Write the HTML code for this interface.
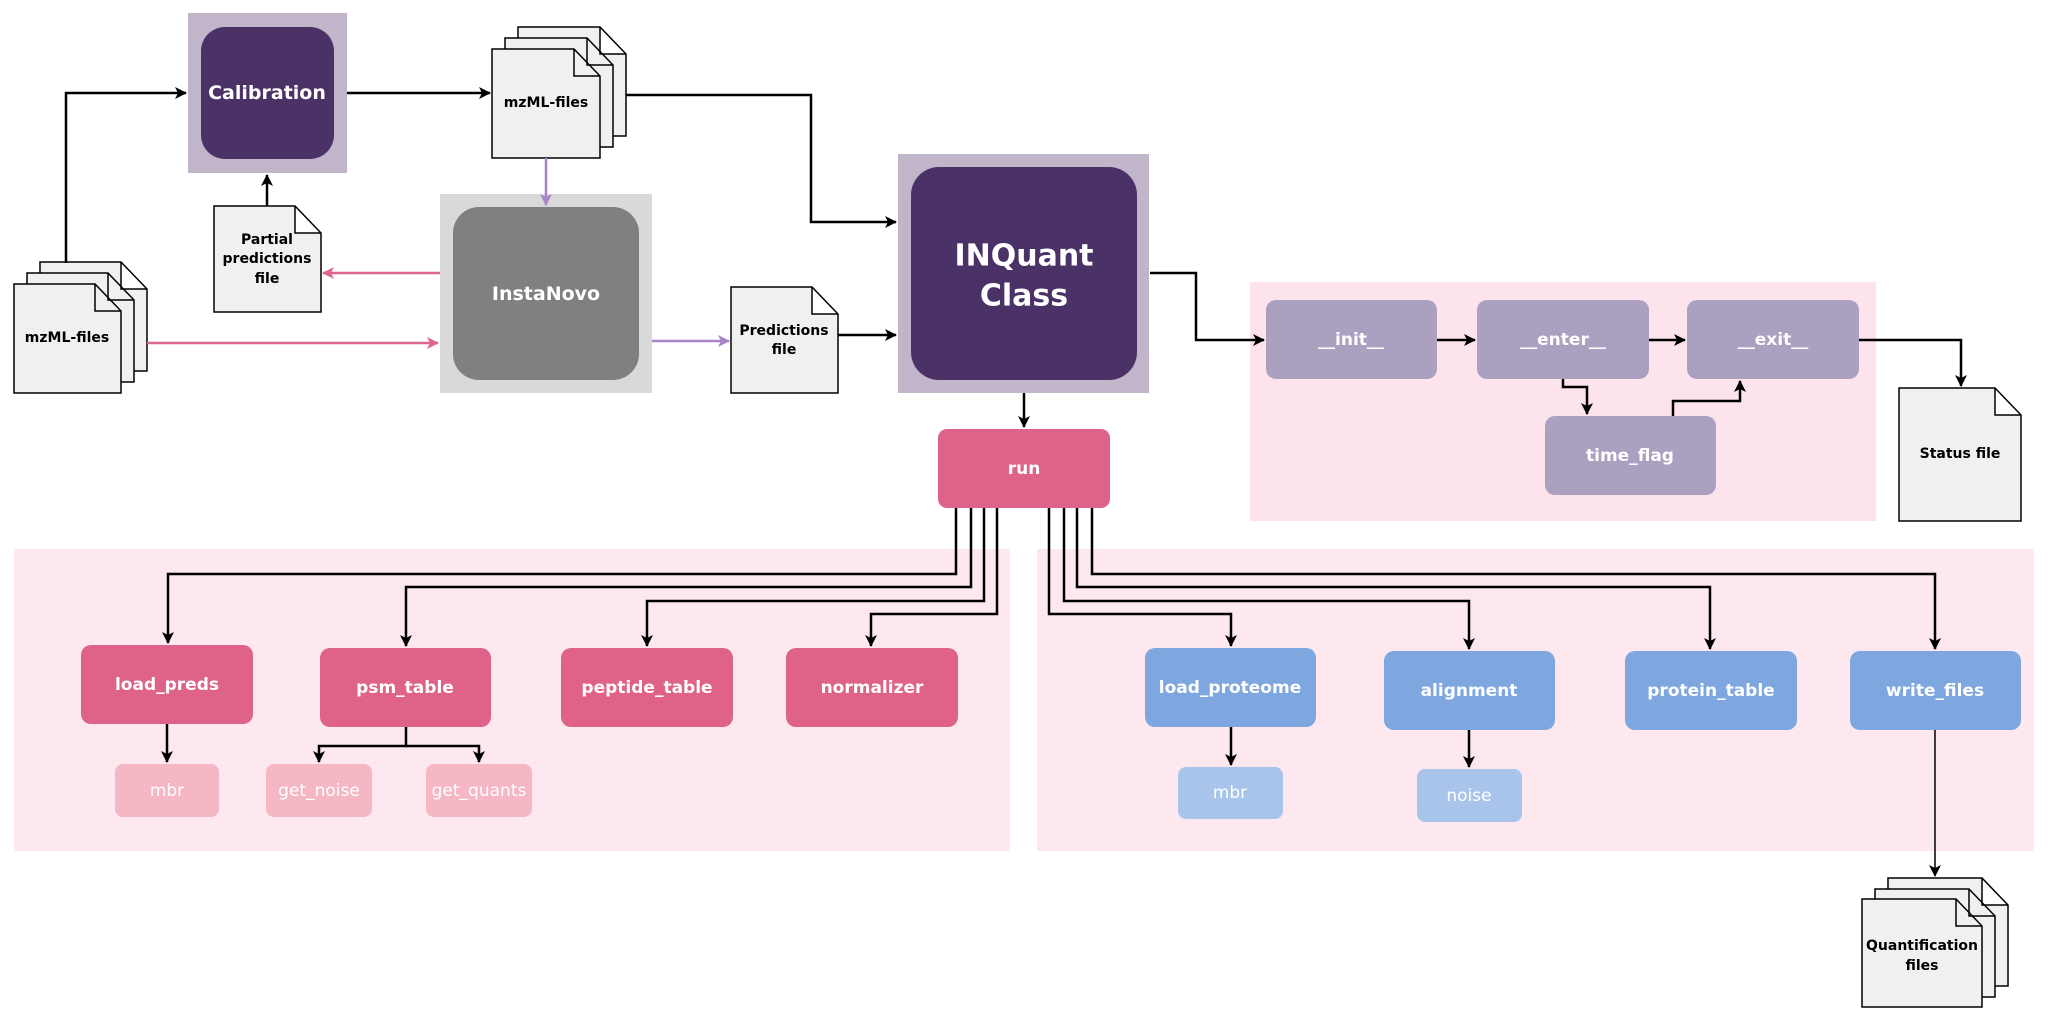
<!DOCTYPE html>
<html><head><meta charset="utf-8"><style>
html,body{margin:0;padding:0;background:#fff;}
svg{display:block;}
text{font-family:"DejaVu Sans","Liberation Sans",sans-serif;text-anchor:middle;dominant-baseline:central;}
.w{fill:#fff;font-weight:bold;font-size:17px;}
.l{fill:#fff;font-size:17px;}
.d{fill:#000;font-weight:bold;font-size:14px;}
.doc{fill:#f0f0f0;stroke:#000;stroke-width:1.5;}
.k{fill:none;stroke:#000;stroke-width:2.5;}
.k1{fill:none;stroke:#000;stroke-width:1.5;}
</style></head><body>
<svg width="2048" height="1026" viewBox="0 0 2048 1026" xmlns="http://www.w3.org/2000/svg">
<defs>
<marker id="a" viewBox="0 0 12 12" refX="11" refY="6" markerWidth="12" markerHeight="12" markerUnits="userSpaceOnUse" orient="auto"><path d="M0,0 L12,6 L0,12 L3,6 Z" fill="#000"/></marker>
<marker id="ap" viewBox="0 0 12 12" refX="11" refY="6" markerWidth="12" markerHeight="12" markerUnits="userSpaceOnUse" orient="auto"><path d="M0,0 L12,6 L0,12 L3,6 Z" fill="#dc6690"/></marker>
<marker id="av" viewBox="0 0 12 12" refX="11" refY="6" markerWidth="12" markerHeight="12" markerUnits="userSpaceOnUse" orient="auto"><path d="M0,0 L12,6 L0,12 L3,6 Z" fill="#a785c6"/></marker>
</defs>

<!-- panels -->
<rect x="1250" y="282" width="626" height="239" fill="#fde4ec"/>
<rect x="14" y="549" width="996" height="302" fill="#fde8ef"/>
<rect x="1037" y="549" width="997" height="302" fill="#fde8ef"/>

<!-- Calibration -->
<rect x="188" y="13" width="159" height="160" fill="#c0b5c9"/>
<rect x="201" y="27" width="133" height="132" rx="24" fill="#4a3267"/>
<text x="267" y="93" class="w" style="font-size:19px">Calibration</text>

<!-- InstaNovo -->
<rect x="440" y="194" width="212" height="199" fill="#d9d9d9"/>
<rect x="453" y="207" width="186" height="173" rx="26" fill="#808080"/>
<text x="546" y="294" class="w" style="font-size:19px">InstaNovo</text>

<!-- INQuant -->
<rect x="898" y="154" width="251" height="239" fill="#c0b5c9"/>
<rect x="911" y="167" width="226" height="213" rx="28" fill="#4a3267"/>
<text x="1024" y="256" class="w" style="font-size:30px">INQuant</text>
<text x="1024" y="296" class="w" style="font-size:30px">Class</text>

<!-- docs: top mzML stack -->
<path class="doc" d="M518,27 H600 L626,54 V136 H518 Z M600,27 V54 H626"/>
<path class="doc" d="M505,38 H587 L613,65 V147 H505 Z M587,38 V65 H613"/>
<path class="doc" d="M492,49 H574 L600,76 V158 H492 Z M574,49 V76 H600"/>
<text x="546" y="103" class="d">mzML-files</text>

<!-- left mzML stack -->
<path class="doc" d="M40,262 H121 L147,289 V371 H40 Z M121,262 V289 H147"/>
<path class="doc" d="M27,273 H108 L134,300 V382 H27 Z M108,273 V300 H134"/>
<path class="doc" d="M14,284 H95 L121,311 V393 H14 Z M95,284 V311 H121"/>
<text x="67" y="338" class="d">mzML-files</text>

<!-- Partial predictions -->
<path class="doc" d="M214,206 H295 L321,233 V312 H214 Z M295,206 V233 H321"/>
<text x="267" y="240" class="d">Partial</text>
<text x="267" y="259" class="d">predictions</text>
<text x="267" y="279" class="d">file</text>

<!-- Predictions file -->
<path class="doc" d="M731,287 H812 L838,314 V393 H731 Z M812,287 V314 H838"/>
<text x="784" y="331" class="d">Predictions</text>
<text x="784" y="350" class="d">file</text>

<!-- Status file -->
<path class="doc" d="M1899,388 H1995 L2021,415 V521 H1899 Z M1995,388 V415 H2021"/>
<text x="1960" y="454" class="d">Status file</text>

<!-- Quant stack -->
<path class="doc" d="M1888,878 H1982 L2008,905 V986 H1888 Z M1982,878 V905 H2008"/>
<path class="doc" d="M1875,889 H1969 L1995,916 V997 H1875 Z M1969,889 V916 H1995"/>
<path class="doc" d="M1862,899 H1956 L1982,926 V1007 H1862 Z M1956,899 V926 H1982"/>
<text x="1922" y="946" class="d">Quantification</text>
<text x="1922" y="966" class="d">files</text>

<!-- top connectors -->
<path class="k" d="M66,263 V93 H186" marker-end="url(#a)"/>
<path class="k" d="M347,93 H490" marker-end="url(#a)"/>
<path class="k" d="M267,206 V175" marker-end="url(#a)"/>
<path class="k" d="M626,95 H811 V222 H896" marker-end="url(#a)"/>
<path class="k" d="M838,335 H896" marker-end="url(#a)"/>
<path d="M546,158 V205" stroke="#a785c6" stroke-width="2.5" fill="none" marker-end="url(#av)"/>
<path d="M652,341 H729" stroke="#a785c6" stroke-width="2.5" fill="none" marker-end="url(#av)"/>
<path d="M440,273 H323" stroke="#dc6690" stroke-width="2.5" fill="none" marker-end="url(#ap)"/>
<path d="M147,343 H438" stroke="#dc6690" stroke-width="2.5" fill="none" marker-end="url(#ap)"/>
<path class="k" d="M1024,393 V427" marker-end="url(#a)"/>

<!-- run -->
<rect x="938" y="429" width="172" height="79" rx="9" fill="#df6389"/>
<text x="1024" y="469" class="w">run</text>

<!-- lavender methods -->
<rect x="1266" y="300" width="171" height="79" rx="10" fill="#aba0c0"/>
<text x="1351" y="340" class="w">__init__</text>
<rect x="1477" y="300" width="172" height="79" rx="10" fill="#aba0c0"/>
<text x="1563" y="340" class="w">__enter__</text>
<rect x="1687" y="300" width="172" height="79" rx="10" fill="#aba0c0"/>
<text x="1773" y="340" class="w">__exit__</text>
<rect x="1545" y="416" width="171" height="79" rx="10" fill="#aba0c0"/>
<text x="1630" y="456" class="w">time_flag</text>

<path class="k" d="M1150,273 H1196 V340 H1264" marker-end="url(#a)"/>
<path class="k" d="M1437,340 H1475" marker-end="url(#a)"/>
<path class="k" d="M1649,340 H1685" marker-end="url(#a)"/>
<path class="k" d="M1563,379 V387 H1587 V414" marker-end="url(#a)"/>
<path class="k" d="M1673,416 V401 H1740 V381" marker-end="url(#a)"/>
<path class="k" d="M1859,340 H1961 V386" marker-end="url(#a)"/>

<!-- run branches left -->
<path class="k" d="M956,508 V574 H168 V643" marker-end="url(#a)"/>
<path class="k" d="M971,508 V587 H406 V646" marker-end="url(#a)"/>
<path class="k" d="M984,508 V601 H647 V646" marker-end="url(#a)"/>
<path class="k" d="M997,508 V614 H871 V646" marker-end="url(#a)"/>
<!-- run branches right -->
<path class="k" d="M1049,508 V614 H1231 V646" marker-end="url(#a)"/>
<path class="k" d="M1064,508 V601 H1469 V649" marker-end="url(#a)"/>
<path class="k" d="M1077,508 V587 H1710 V649" marker-end="url(#a)"/>
<path class="k" d="M1092,508 V574 H1935 V649" marker-end="url(#a)"/>

<!-- pink boxes -->
<rect x="81" y="645" width="172" height="79" rx="10" fill="#df6389"/>
<text x="167" y="685" class="w">load_preds</text>
<rect x="320" y="648" width="171" height="79" rx="10" fill="#df6389"/>
<text x="405" y="688" class="w">psm_table</text>
<rect x="561" y="648" width="172" height="79" rx="10" fill="#df6389"/>
<text x="647" y="688" class="w">peptide_table</text>
<rect x="786" y="648" width="172" height="79" rx="10" fill="#df6389"/>
<text x="872" y="688" class="w">normalizer</text>

<rect x="115" y="764" width="104" height="53" rx="8" fill="#f5b7c4"/>
<text x="167" y="791" class="l">mbr</text>
<rect x="266" y="764" width="106" height="53" rx="8" fill="#f5b7c4"/>
<text x="319" y="791" class="l">get_noise</text>
<rect x="426" y="764" width="106" height="53" rx="8" fill="#f5b7c4"/>
<text x="479" y="791" class="l">get_quants</text>

<path class="k" d="M167,724 V762" marker-end="url(#a)"/>
<path class="k" d="M406,727 V746 H319 V762" marker-end="url(#a)"/>
<path class="k" d="M406,746 H479 V762" marker-end="url(#a)"/>

<!-- blue boxes -->
<rect x="1145" y="648" width="171" height="79" rx="10" fill="#7ea6df"/>
<text x="1230" y="688" class="w">load_proteome</text>
<rect x="1384" y="651" width="171" height="79" rx="10" fill="#7ea6df"/>
<text x="1469" y="691" class="w">alignment</text>
<rect x="1625" y="651" width="172" height="79" rx="10" fill="#7ea6df"/>
<text x="1711" y="691" class="w">protein_table</text>
<rect x="1850" y="651" width="171" height="79" rx="10" fill="#7ea6df"/>
<text x="1935" y="691" class="w">write_files</text>

<rect x="1178" y="767" width="105" height="52" rx="8" fill="#a9c4eb"/>
<text x="1230" y="793" class="l">mbr</text>
<rect x="1417" y="769" width="105" height="53" rx="8" fill="#a9c4eb"/>
<text x="1469" y="796" class="l">noise</text>

<path class="k" d="M1231,727 V765" marker-end="url(#a)"/>
<path class="k" d="M1469,730 V767" marker-end="url(#a)"/>
<path class="k1" d="M1935,730 V876" marker-end="url(#a)"/>
</svg>
</body></html>
